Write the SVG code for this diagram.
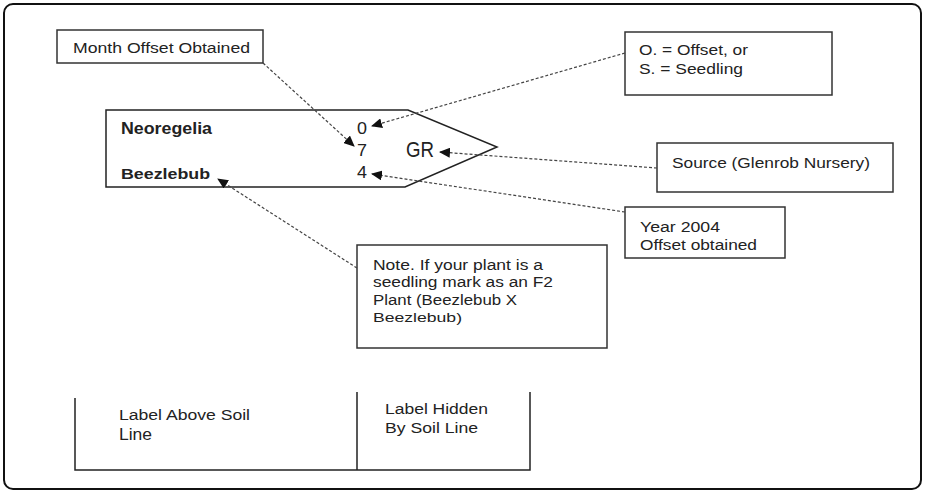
<svg xmlns="http://www.w3.org/2000/svg" width="926" height="494" viewBox="0 0 926 494">
<style>
.t{font-family:"Liberation Sans",Arial,sans-serif;fill:#222;font-size:14px}
.box{fill:#fff;stroke:#333;stroke-width:1.5}
.dash{fill:none;stroke:#444;stroke-width:1.2;stroke-dasharray:3,2}
.solid{fill:none;stroke:#222;stroke-width:1.5}
</style>
<defs>
<marker id="ah" markerWidth="11" markerHeight="10" refX="10" refY="5" orient="auto" markerUnits="userSpaceOnUse">
<path d="M0,0 L11,5 L0,10 Z" fill="#111"/>
</marker>
</defs>
<rect x="4" y="4" width="917" height="485" rx="9" fill="#fff" stroke="#111" stroke-width="2"/>

<g id="label">
<path class="solid" d="M106,110 L408,110 L497,147 L405,187 L106,187 Z"/>
<text class="t" x="121" y="134" style="font-size:17px;font-weight:bold" textLength="91" lengthAdjust="spacingAndGlyphs">Neoregelia</text>
<text class="t" x="121" y="179" style="font-size:15px;font-weight:bold" textLength="89" lengthAdjust="spacingAndGlyphs">Beezlebub</text>
<text class="t" x="357" y="134" style="font-size:17px" textLength="10" lengthAdjust="spacingAndGlyphs">0</text>
<text class="t" x="357" y="156" style="font-size:17px" textLength="10" lengthAdjust="spacingAndGlyphs">7</text>
<text class="t" x="357" y="178" style="font-size:17px" textLength="10" lengthAdjust="spacingAndGlyphs">4</text>
<text class="t" x="406" y="157" style="font-size:22px" textLength="28" lengthAdjust="spacingAndGlyphs">GR</text>
</g>

<g id="month">
<rect class="box" x="57" y="30" width="206" height="33"/>
<text class="t" x="73" y="53" textLength="177" lengthAdjust="spacingAndGlyphs">Month Offset Obtained</text>
</g>

<g id="type">
<rect class="box" x="625" y="32" width="207" height="63"/>
<text class="t" x="639" y="55" textLength="109" lengthAdjust="spacingAndGlyphs">O. = Offset, or</text>
<text class="t" x="639" y="74" textLength="104" lengthAdjust="spacingAndGlyphs">S. = Seedling</text>
</g>

<g id="source">
<rect class="box" x="657" y="143" width="236" height="49"/>
<text class="t" x="672" y="168" textLength="198" lengthAdjust="spacingAndGlyphs">Source (Glenrob Nursery)</text>
</g>

<g id="year">
<rect class="box" x="625" y="207" width="160" height="51"/>
<text class="t" x="640" y="232" textLength="80" lengthAdjust="spacingAndGlyphs">Year 2004</text>
<text class="t" x="640" y="250" textLength="117" lengthAdjust="spacingAndGlyphs">Offset obtained</text>
</g>

<g id="note">
<rect class="box" x="357" y="245" width="250" height="103"/>
<text class="t" x="373" y="270" textLength="170" lengthAdjust="spacingAndGlyphs">Note. If your plant is a</text>
<text class="t" x="373" y="287" textLength="180" lengthAdjust="spacingAndGlyphs">seedling mark as an F2</text>
<text class="t" x="373" y="305" textLength="144" lengthAdjust="spacingAndGlyphs">Plant (Beezlebub X</text>
<text class="t" x="373" y="322" style="font-size:12px" textLength="89" lengthAdjust="spacingAndGlyphs">Beezlebub)</text>
</g>

<g id="soil">
<path class="solid" d="M75,398 L75,470 L530,470 L530,392 M357,392 L357,470"/>
<text class="t" x="119" y="420" textLength="131" lengthAdjust="spacingAndGlyphs">Label Above Soil</text>
<text class="t" x="119" y="440" style="font-size:16px" textLength="33" lengthAdjust="spacingAndGlyphs">Line</text>
<text class="t" x="385" y="414" textLength="103" lengthAdjust="spacingAndGlyphs">Label Hidden</text>
<text class="t" x="385" y="433" textLength="93" lengthAdjust="spacingAndGlyphs">By Soil Line</text>
</g>

<g id="connectors">
<line class="dash" x1="263" y1="63" x2="354" y2="146" marker-end="url(#ah)"/>
<line class="dash" x1="625" y1="53" x2="372" y2="126" marker-end="url(#ah)"/>
<line class="dash" x1="657" y1="168" x2="440" y2="152" marker-end="url(#ah)"/>
<line class="dash" x1="625" y1="212" x2="372" y2="174" marker-end="url(#ah)"/>
<line class="dash" x1="357" y1="268" x2="218" y2="179" marker-end="url(#ah)"/>
</g>
</svg>
